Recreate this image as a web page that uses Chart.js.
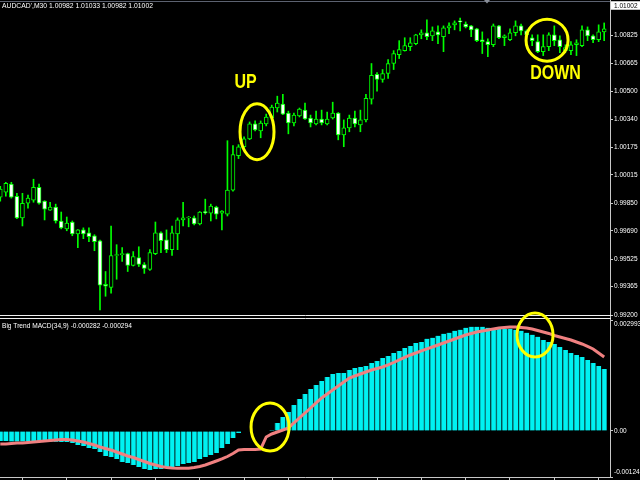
<!DOCTYPE html>
<html><head><meta charset="utf-8">
<script src="https://cdn.jsdelivr.net/npm/chart.js@4.4.1/dist/chart.umd.min.js"></script>
<style>
html,body{margin:0;padding:0;background:#000;overflow:hidden}
#wrap{position:relative;width:640px;height:480px;background:#000}
canvas{position:absolute;left:0;top:0}
</style></head><body>
<div id="wrap"><canvas id="price" width="640" height="480"></canvas><canvas id="macd" width="640" height="480"></canvas></div>
<script>
// ---- data ----
const titleText = "AUDCAD',M30 1.00982 1.01033 1.00982 1.01002";
const macdTitle = "Big Trend MACD(34,9) -0.000282 -0.000294";
const currentPrice = 1.01002;

const open = [0.99885,0.99914,0.99961,0.99891,0.99765,0.99850,0.99868,0.99943,0.99862,0.99810,
0.99828,0.99747,0.99701,0.99741,0.99672,0.99695,0.99678,0.99661,0.99632,0.99379,
0.99361,0.99546,0.99551,0.99557,0.99488,0.99534,0.99494,0.99465,0.99557,0.99678,
0.99638,0.99580,0.99672,0.99753,0.99765,0.99765,0.99730,0.99802,0.99793,0.99828,
0.99793,0.99787,0.99926,1.00127,1.00179,1.00225,1.00312,1.00271,1.00312,1.00346,
1.00404,1.00427,1.00375,1.00317,1.00358,1.00392,1.00346,1.00312,1.00340,1.00312,
1.00346,1.00375,1.00248,1.00289,1.00346,1.00306,1.00335,1.00456,1.00600,1.00571,
1.00605,1.00663,1.00715,1.00738,1.00761,1.00778,1.00830,1.00842,1.00824,1.00847,
1.00819,1.00870,1.00888,1.00911,1.00893,1.00882,1.00865,1.00801,1.00790,1.00772,
1.00882,1.00813,1.00801,1.00842,1.00882,1.00853,1.00813,1.00790,1.00732,1.00761,
1.00830,1.00801,1.00738,1.00738,1.00772,1.00767,1.00859,1.00824,1.00801,1.00847];
const high = [0.99949,0.99972,0.99972,0.99908,0.99908,0.99897,0.99990,0.99961,0.99865,0.99856,
0.99845,0.99799,0.99770,0.99747,0.99697,0.99707,0.99707,0.99667,0.99636,0.99453,
0.99718,0.99609,0.99592,0.99560,0.99569,0.99597,0.99505,0.99580,0.99741,0.99684,
0.99695,0.99718,0.99765,0.99856,0.99773,0.99776,0.99802,0.99874,0.99845,0.99833,
0.99808,1.00214,1.00185,1.00191,1.00237,1.00323,1.00329,1.00329,1.00369,1.00421,
1.00473,1.00484,1.00386,1.00375,1.00404,1.00433,1.00363,1.00386,1.00392,1.00381,
1.00438,1.00378,1.00335,1.00363,1.00386,1.00392,1.00484,1.00663,1.00611,1.00628,
1.00686,1.00738,1.00796,1.00813,1.00813,1.00833,1.00859,1.00917,1.00876,1.00882,
1.00882,1.00899,1.00911,1.00928,1.00905,1.00885,1.00868,1.00847,1.00807,1.00893,
1.00885,1.00830,1.00865,1.00911,1.00893,1.00859,1.00830,1.00830,1.00830,1.00842,
1.00882,1.00824,1.00772,1.00790,1.00801,1.00882,1.00876,1.00830,1.00888,1.00899];
const low = [0.99862,0.99891,0.99880,0.99760,0.99718,0.99822,0.99856,0.99845,0.99753,0.99808,
0.99735,0.99701,0.99690,0.99661,0.99592,0.99644,0.99626,0.99574,0.99229,0.99309,
0.99327,0.99408,0.99511,0.99453,0.99485,0.99482,0.99442,0.99459,0.99551,0.99563,
0.99563,0.99546,0.99580,0.99718,0.99713,0.99724,0.99724,0.99787,0.99747,0.99759,
0.99695,0.99776,0.99920,1.00110,1.00162,1.00220,1.00271,1.00231,1.00300,1.00340,
1.00381,1.00366,1.00254,1.00300,1.00352,1.00338,1.00294,1.00306,1.00306,1.00306,
1.00340,1.00219,1.00179,1.00266,1.00294,1.00266,1.00323,1.00427,1.00502,1.00554,
1.00577,1.00628,1.00692,1.00735,1.00738,1.00772,1.00807,1.00801,1.00796,1.00778,
1.00732,1.00836,1.00859,1.00853,1.00870,1.00819,1.00790,1.00721,1.00703,1.00761,
1.00807,1.00767,1.00796,1.00824,1.00830,1.00819,1.00767,1.00726,1.00709,1.00738,
1.00767,1.00726,1.00726,1.00715,1.00709,1.00761,1.00796,1.00784,1.00790,1.00796];
const close = [0.99932,0.99966,0.99885,0.99765,0.99850,0.99880,0.99943,0.99850,0.99816,0.99828,
0.99747,0.99707,0.99735,0.99672,0.99695,0.99672,0.99655,0.99626,0.99373,0.99367,
0.99546,0.99551,0.99557,0.99488,0.99540,0.99494,0.99471,0.99563,0.99678,0.99632,
0.99580,0.99678,0.99753,0.99765,0.99770,0.99730,0.99799,0.99795,0.99833,0.99787,
0.99805,0.99926,1.00133,1.00179,1.00225,1.00312,1.00277,1.00317,1.00352,1.00410,
1.00433,1.00369,1.00317,1.00363,1.00398,1.00340,1.00317,1.00340,1.00317,1.00340,
1.00375,1.00248,1.00289,1.00346,1.00312,1.00335,1.00461,1.00594,1.00571,1.00605,
1.00663,1.00721,1.00744,1.00767,1.00784,1.00830,1.00842,1.00819,1.00853,1.00830,
1.00870,1.00882,1.00899,1.00905,1.00876,1.00859,1.00796,1.00790,1.00772,1.00882,
1.00813,1.00824,1.00842,1.00882,1.00853,1.00830,1.00796,1.00732,1.00761,1.00830,
1.00796,1.00761,1.00755,1.00772,1.00784,1.00859,1.00824,1.00801,1.00847,1.00865];

const histogram = [-0.000270,-0.000270,-0.000283,-0.000283,-0.000283,-0.000283,-0.000283,-0.000283,-0.000283,-0.000290,
-0.000290,-0.000297,-0.000297,-0.000324,-0.000378,-0.000405,-0.000459,-0.000486,-0.000567,-0.000675,
-0.000702,-0.000756,-0.000837,-0.000864,-0.000918,-0.000972,-0.001026,-0.001053,-0.001026,-0.001026,
-0.000999,-0.000972,-0.000945,-0.000891,-0.000864,-0.000837,-0.000756,-0.000702,-0.000648,-0.000594,
-0.000459,-0.000351,-0.000189,-0.000054,0,0,0,0,0,0.000027,
0.000216,0.000378,0.000513,0.000702,0.000864,0.000999,0.001134,0.001242,0.001350,0.001458,
0.001539,0.001566,0.001566,0.001647,0.001701,0.001728,0.001755,0.001836,0.001890,0.001971,
0.002025,0.002106,0.002160,0.002241,0.002295,0.002376,0.002403,0.002484,0.002511,0.002565,
0.002619,0.002646,0.002700,0.002727,0.002781,0.002808,0.002808,0.002808,0.002781,0.002754,
0.002754,0.002754,0.002754,0.002727,0.002700,0.002646,0.002592,0.002538,0.002457,0.002403,
0.002349,0.002268,0.002187,0.002106,0.002052,0.001998,0.001917,0.001836,0.001755,0.001674];
const signal = [-0.000351,-0.000351,-0.000337,-0.000324,-0.000324,-0.000310,-0.000297,-0.000283,-0.000270,-0.000256,
-0.000243,-0.000229,-0.000229,-0.000243,-0.000270,-0.000297,-0.000337,-0.000378,-0.000432,-0.000472,
-0.000512,-0.000566,-0.000620,-0.000674,-0.000715,-0.000769,-0.000823,-0.000877,-0.000917,-0.000957,
-0.000984,-0.000998,-0.001006,-0.001006,-0.001006,-0.000984,-0.000957,-0.000917,-0.000863,-0.000809,
-0.000755,-0.000688,-0.000607,-0.000512,-0.000499,-0.000499,-0.000499,-0.000485,-0.000162,-0.000081,
-0.000027,0.000027,0.000081,0.000216,0.000351,0.000485,0.000620,0.000755,0.000890,0.000998,
0.001106,0.001214,0.001322,0.001429,0.001483,0.001537,0.001591,0.001645,0.001686,0.001726,
0.001780,0.001847,0.001915,0.001982,0.002050,0.002104,0.002158,0.002212,0.002265,0.002319,
0.002373,0.002427,0.002481,0.002535,0.002589,0.002630,0.002670,0.002697,0.002724,0.002751,
0.002778,0.002791,0.002805,0.002805,0.002791,0.002778,0.002751,0.002710,0.002670,0.002630,
0.002576,0.002535,0.002495,0.002454,0.002400,0.002346,0.002279,0.002212,0.002104,0.001996];

const priceTicks = [1.00825,1.00665,1.00500,1.00340,1.00175,1.00015,0.99850,0.99690,0.99525,0.99365,0.99200];
const macdTicks = [0.002993,0.00,-0.001241];
const macdTickLabels = ['0.002993','0.00','-0.001241'];
const timeTicks = [8,16,24,32,40,48,56,64,72,80,88,96,104];

// annotation anchors (bar index, value) and radii
const upMark   = {bar:46.34, price:1.00266, text:'UP',   textBar:44.27, textPrice:1.00560};
const downMark = {bar:98.69, price:1.00799, text:'DOWN', textBar:100.22, textPrice:1.00610};
const macdMarks = [{bar:48.69, value:0.000107, rx:19, ry:24},{bar:96.52, value:0.002588, rx:18, ry:22}];

// ---- helpers ----
const bars = open.map((_, i) => i);
const FONT = '"Liberation Sans", Arial, sans-serif';
const XMIN = -0.05, XMAX = 110.05;
const LIME = '#00ff00', YEL = '#ffff00', AXIS = '#c8c8c8';

function ell(ctx, cx, cy, rx, ry){ctx.beginPath();ctx.ellipse(cx,cy,rx,ry,0,0,Math.PI*2);ctx.stroke();}
function bigText(ctx, t, cx, cy){ctx.save();ctx.translate(cx,cy);ctx.scale(0.8,1);ctx.font='bold 20px '+FONT;ctx.textAlign='center';ctx.textBaseline='middle';ctx.fillStyle=YEL;ctx.fillText(t,0,1);ctx.restore();}

const priceDecor = {id:'priceDecor', afterDraw(chart){
  const {ctx, scales:{x,y}} = chart;
  ctx.save();
  ctx.lineWidth = 1;
  ctx.strokeStyle = '#5c6270';
  ctx.beginPath(); ctx.moveTo(0,1.5); ctx.lineTo(610,1.5); ctx.stroke();
  ctx.fillStyle = '#8a8f99';
  ctx.beginPath(); ctx.moveTo(484,0); ctx.lineTo(490,0); ctx.lineTo(487,3.5); ctx.closePath(); ctx.fill();
  ctx.strokeStyle = AXIS;
  ctx.beginPath(); ctx.moveTo(610.5,0); ctx.lineTo(610.5,320); ctx.stroke();
  ctx.strokeStyle = '#f0f0f0';
  ctx.beginPath(); ctx.moveTo(0,315.5); ctx.lineTo(611,315.5); ctx.moveTo(0,318.5); ctx.lineTo(611,318.5); ctx.stroke();
  ctx.fillStyle = '#fff'; ctx.font = '6.8px '+FONT; ctx.textAlign='left'; ctx.textBaseline='middle';
  ctx.fillText(titleText, 2, 6.5);
  const py = y.getPixelForValue(currentPrice);
  ctx.fillStyle = '#fff'; ctx.fillRect(611, py-4, 29, 8.5);
  ctx.fillStyle = '#000'; ctx.font = '6.5px '+FONT; ctx.fillText(currentPrice.toFixed(5), 614, py+0.5);
  ctx.strokeStyle = YEL; ctx.lineWidth = 3;
  ell(ctx, x.getPixelForValue(upMark.bar), y.getPixelForValue(upMark.price), 17, 28);
  ell(ctx, x.getPixelForValue(downMark.bar), y.getPixelForValue(downMark.price), 21, 21);
  bigText(ctx, upMark.text, x.getPixelForValue(upMark.textBar), y.getPixelForValue(upMark.textPrice));
  bigText(ctx, downMark.text, x.getPixelForValue(downMark.textBar), y.getPixelForValue(downMark.textPrice));
  ctx.restore();
}};

const macdDecor = {id:'macdDecor', afterDraw(chart){
  const {ctx, scales:{x,y}} = chart;
  ctx.save();
  ctx.fillStyle = '#fff'; ctx.font = '6.6px '+FONT; ctx.textAlign='left'; ctx.textBaseline='middle';
  ctx.fillText(macdTitle, 2, 326);
  ctx.font = '6.5px '+FONT;
  macdTicks.forEach((v, k) => {
    const p = y.getPixelForValue(v);
    const off = k === 0 ? 4 : (k === macdTicks.length-1 ? -4.5 : 0.5);
    ctx.fillText(macdTickLabels[k], 614, p + off);
  });
  ctx.strokeStyle = YEL; ctx.lineWidth = 3;
  macdMarks.forEach(m => ell(ctx, x.getPixelForValue(m.bar), y.getPixelForValue(m.value), m.rx, m.ry));
  ctx.restore();
}};

const common = {responsive:false, animation:false, events:[], plugins:{legend:{display:false}, tooltip:{enabled:false}}};

new Chart(document.getElementById('price'), {
  type:'bar',
  data:{datasets:[
    {label:'wick', data: bars.map(i => ({x:i, y:[low[i], high[i]]})), backgroundColor: LIME, borderWidth:0, barThickness:1, grouped:false, order:2},
    {label:'body', data: bars.map(i => ({x:i, y:[open[i], close[i]]})),
     backgroundColor: c => (close[c.dataIndex] >= open[c.dataIndex] ? '#000000' : '#ffffff'),
     borderColor: LIME, borderWidth:1, borderSkipped:false, barThickness:4, grouped:false, order:1}
  ]},
  options:Object.assign({}, common, {
    layout:{padding:{top:2, bottom:165, left:0, right:0}},
    scales:{
      x:{type:'linear', min:XMIN, max:XMAX, display:false, offset:false},
      y:{position:'right', min:0.992, max:1.01004,
         afterBuildTicks: s => { s.ticks = priceTicks.map(v => ({value:v})); },
         afterFit: s => { s.width = 30; },
         grid:{drawOnChartArea:false, drawTicks:true, tickLength:3, color:AXIS},
         border:{display:true, color:AXIS},
         ticks:{color:'#ffffff', font:{family:FONT, size:6.5}, padding:1, autoSkip:false, callback: v => Number(v).toFixed(5)}}
    }
  }),
  plugins:[priceDecor]
});

new Chart(document.getElementById('macd'), {
  type:'bar',
  data:{datasets:[
    {type:'line', label:'signal', data: bars.map(i => ({x:i, y:signal[i]})), borderColor:'#f08080', borderWidth:3, pointRadius:0, tension:0, order:0},
    {label:'hist', data: bars.map(i => ({x:i, y:histogram[i]})), backgroundColor:'#00f2f2', borderColor:'#0a7d7d',
     borderWidth:{left:1, right:0, top:0, bottom:0}, borderSkipped:false, barThickness:5, grouped:false, order:1}
  ]},
  options:Object.assign({}, common, {
    layout:{padding:{top:320, bottom:0, left:0, right:0}},
    scales:{
      x:{type:'linear', min:XMIN, max:XMAX, position:'bottom', offset:false,
         afterBuildTicks: s => { s.ticks = timeTicks.map(v => ({value:v})); },
         afterFit: s => { s.height = 3; },
         ticks:{display:false},
         grid:{drawOnChartArea:false, drawTicks:true, tickLength:3, color:AXIS},
         border:{display:true, color:AXIS}},
      y:{position:'right', min:-0.001241, max:0.002993,
         afterBuildTicks: s => { s.ticks = macdTicks.map(v => ({value:v})); },
         afterFit: s => { s.width = 30; },
         ticks:{display:false},
         grid:{drawOnChartArea:false, drawTicks:true, tickLength:3, color:AXIS},
         border:{display:true, color:AXIS}}
    }
  }),
  plugins:[macdDecor]
});
</script>
</body></html>
